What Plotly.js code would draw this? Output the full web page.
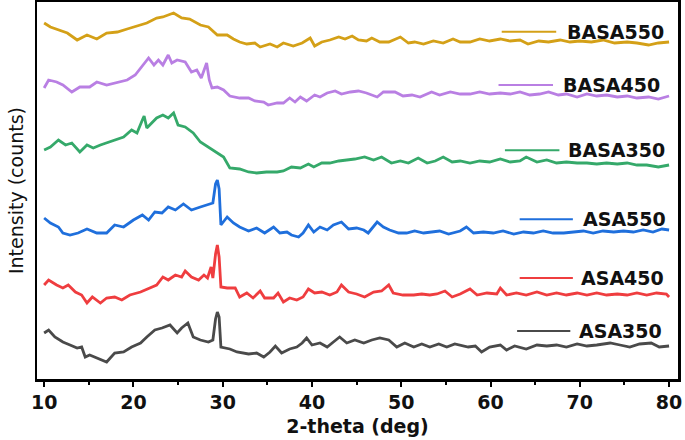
<!DOCTYPE html>
<html>
<head>
<meta charset="utf-8">
<script src="https://cdn.plot.ly/plotly-3.0.1.min.js"></script>
<style>
  html, body { margin: 0; padding: 0; background: #ffffff; }
  #plot { width: 685px; height: 440px; }
</style>
</head>
<body>
<div id="plot"></div>
<script>
// XRD patterns, stacked with a vertical offset (arbitrary counts)

const basa550X = [10,10.7,12.6,13.7,14.8,15.9,17,18.2,19.3,20.4,21.5,22.6,23.3,24.5,25.4,26.3,27.5,28.4,29.4,30.5,31.2,31.9,32.7,33.6,34.2,35.3,36.1,36.8,37.9,38.9,39.8,40.3,41.1,42,43,43.7,44.5,45.2,46.1,46.7,47.6,48.6,49.9,50.8,51.5,52.5,53.6,54.7,55.8,56.6,57.7,58.8,59.9,61.1,62.2,63.3,64.2,65.4,66.5,67.8,68.9,70,71.3,72.6,73.9,75.3,76.4,77.7,78.8,80];
const basa550Y = [356,352,346,339,344,340,346,347,350,353,356,361,362,366,361,360,354,352,344,344,340,337,335,336,332,335,332,336,333,336,341,333,337,339,342,340,343,339,338,341,337,337,342,336,337,335,338,336,340,337,337,340,338,340,338,339,335,338,337,339,337,338,337,339,336,337,336,334,336,337];

const basa450X = [10,10.5,11.4,12.1,13.1,14,15.1,15.9,17,18.2,19.3,20.2,21.1,21.7,22.3,22.8,23.3,23.9,24.3,24.9,25.8,26.5,27.1,27.6,28.2,28.5,28.8,29.4,30.1,30.8,31.9,32.9,33.6,34.6,35.1,36.1,36.8,37.5,38.1,38.7,39.4,40.3,40.9,41.7,42.6,43.3,44.3,45.2,46.1,47.3,48,49.3,50.2,51.2,52.1,53.4,54.3,55.5,56.6,57.7,58.8,59.9,61.1,62.2,63.3,64.4,65.5,66.5,67.6,68.5,69.7,70.8,71.9,73,74.2,75.3,76.4,77.7,78.8,80];
const basa450Y = [291,299,297,294,287,292,292,297,294,297,299,304,314,321,314,319,314,324,316,319,317,307,309,301,316,299,291,292,289,283,281,281,278,277,274,276,276,281,277,282,278,284,282,286,288,285,287,288,286,282,287,287,283,284,282,287,284,287,285,285,287,285,286,285,287,284,285,287,284,285,282,285,283,284,282,283,281,282,280,283];

const basa350X = [10,10.7,11.6,12.4,13.1,14,14.8,15.5,16.3,17,17.9,18.9,19.8,20.4,21,21.2,21.5,22.1,22.6,23.3,23.9,24.5,25,25.8,26.7,27.5,28.4,29.4,30.1,30.8,31.9,32.9,33.8,34.9,36.1,36.8,37.7,38.7,39.6,40.2,41.1,42,43,43.9,44.8,45.9,46.9,47.8,48.9,49.9,50.8,51.9,52.9,53.8,54.7,55.7,56.6,57.7,58.8,59.9,61.1,62.2,63.3,64,65.2,66.3,67.4,68.5,69.7,70.8,71.9,73,74.2,75.3,76.4,77.5,78.8,80];
const basa350Y = [229,232,239,234,236,227,234,231,234,236,239,242,249,246,259,263,251,257,261,264,261,266,254,252,246,237,232,226,222,211,210,207,206,207,207,208,212,211,215,212,216,216,218,219,220,222,219,222,216,218,216,221,216,218,222,217,218,216,218,217,220,217,218,222,217,219,216,217,216,216,215,216,215,216,214,214,212,214];

const asa550X = [10,10.7,11.6,12.1,12.9,13.8,14.8,15.9,17,17.9,18.9,20,21,21.7,22.4,23.2,23.9,24.7,25.6,26.5,27.5,28.4,28.9,29.2,29.4,29.6,29.8,30.5,31.2,31.9,32.9,33.8,34.7,35.7,36.4,37.2,37.7,38.5,39,39.6,40.2,40.9,41.7,42.4,43.3,44.1,45,45.8,46.3,47.3,48,48.7,49.7,50.6,51.5,52.5,53.4,54.3,55.3,56.6,57.3,58.1,59.2,60.3,61.4,62.6,63.7,64.8,65.9,67,68.2,69.3,70.4,71.5,72.6,73.8,74.9,76,77.1,78.2,79.2,80];
const asa550Y = [161,156,152,146,144,146,150,146,146,154,152,159,164,159,167,166,172,169,175,169,172,175,176,195,199,190,154,162,156,152,148,151,146,152,146,147,144,142,146,154,147,152,149,154,157,150,151,149,146,157,152,149,146,146,148,146,147,148,145,148,152,146,147,146,148,145,147,146,148,146,146,147,148,146,148,147,148,147,149,147,150,149];

const asa450X = [10,10.5,11.4,12.1,12.7,13.5,14.2,14.8,15.4,16.3,17,17.9,18.7,19.6,20.8,21.9,22.6,23.3,23.9,24.7,25.4,25.8,26.5,27.3,27.9,28.3,28.7,28.9,29.2,29.4,29.6,29.8,30.5,31.4,31.9,32.7,33.4,34.2,34.7,35.7,36.2,36.8,37.5,38.3,39,39.6,40.3,41.1,42,42.8,43.3,44.1,45,45.9,46.9,47.8,48.6,49.1,50.2,51.4,52.3,53.2,54,54.9,55.7,56.6,57.7,58.5,59.6,60.7,61.1,61.8,62.9,64,65.2,66.3,67.4,68.5,69.7,70.8,71.9,73,74.2,75.3,76.4,77.5,78.6,79.7,80];
const asa450Y = [94,99,94,91,94,87,84,76,82,76,81,82,79,84,87,91,94,102,99,104,102,108,102,99,104,101,112,101,125,134,122,92,91,91,82,86,81,88,81,81,86,77,81,79,82,90,86,87,84,87,94,87,85,82,87,88,94,86,84,84,85,84,85,88,82,85,90,84,86,85,91,84,86,84,87,84,86,84,86,84,86,84,85,84,86,84,86,85,82];

const asa350X = [10,10.5,11.2,12.1,12.9,13.7,14.2,14.6,15.1,16,17,17.9,18.9,19.8,20.8,21.5,22.4,23.2,24.1,24.9,25.4,26.1,26.7,27.5,28.4,28.9,29.2,29.4,29.6,29.8,30.8,31.6,32.9,33.8,34.6,35.3,35.9,36.6,37.5,38.3,38.9,39.4,40,40.9,41.7,42.4,43.1,43.9,44.8,45.8,46.7,47.6,48.6,49.5,50.4,51.4,52.3,53.2,54.2,55.1,56,57.5,58.3,59,59.9,61.1,61.8,62.7,64,65.2,66.3,67.4,68.5,69.7,70.8,71.9,73.4,74.5,75.6,76.7,78,78.9,80];
const asa350Y = [46,49,42,37,34,31,32,22,24,21,17,26,27,32,36,42,49,51,54,46,51,56,42,39,37,39,60,67,62,32,30,27,25,26,22,27,33,26,30,32,36,41,34,36,32,37,42,36,39,36,39,41,39,32,36,32,35,32,35,32,35,32,33,27,32,34,29,33,30,34,33,34,32,35,33,34,36,34,32,35,36,32,33];

const seriesNames = ['BASA550', 'BASA450', 'BASA350', 'ASA550', 'ASA450', 'ASA350'];
const seriesX = [basa550X, basa450X, basa350X, asa550X, asa450X, asa350X];
const seriesY = [basa550Y, basa450Y, basa350Y, asa550Y, asa450Y, asa350Y];
const colors = ['#d4a017', '#b97fe3', '#35a96a', '#1f6fdc', '#ef3d3f', '#4a4a4a'];

// label placement beside each curve (paper coords: line start, line end, text start, y)
const labelPos = [
    [0.725, 0.81, 0.823, 0.921],
    [0.72, 0.805, 0.818, 0.78],
    [0.73, 0.815, 0.826, 0.607],
    [0.753, 0.836, 0.848, 0.424],
    [0.753, 0.836, 0.846, 0.268],
    [0.749, 0.832, 0.843, 0.127]
];

const data = seriesNames.map((name, i) => ({
    x: seriesX[i],
    y: seriesY[i],
    name: name,
    type: 'scatter',
    mode: 'lines',
    line: { color: colors[i], width: 2.8 }
}));

const shapes = [], annotations = [];
labelPos.forEach((p, i) => {
    shapes.push({
        type: 'line', xref: 'paper', yref: 'paper',
        x0: p[0], x1: p[1], y0: p[3], y1: p[3],
        line: { color: colors[i], width: 2 }
    });
    annotations.push({
        xref: 'paper', yref: 'paper', x: p[2], y: p[3],
        xanchor: 'left', yanchor: 'middle', showarrow: false,
        text: seriesNames[i],
        font: { family: 'DejaVu Sans', size: 19, weight: 'bold', color: '#111111' }
    });
});

const layout = {
    width: 685,
    height: 440,
    showlegend: false,
    margin: { l: 37, r: 7, t: 2, b: 61 },
    paper_bgcolor: '#ffffff',
    plot_bgcolor: '#ffffff',
    xaxis: {
        range: [9.2, 81],
        tick0: 10, dtick: 10,
        ticks: 'outside', ticklen: 5, tickwidth: 2, tickcolor: '#000',
        minor: { dtick: 5, ticks: 'outside', ticklen: 3, tickwidth: 2, tickcolor: '#000' },
        showline: true, mirror: true, linewidth: 2.5, linecolor: '#000',
        showgrid: false, zeroline: false,
        tickfont: { family: 'DejaVu Sans', size: 19, weight: 'bold', color: '#111' },
        title: { text: '2-theta (deg)', standoff: 8, font: { family: 'DejaVu Sans', size: 19, weight: 'bold', color: '#111' } }
    },
    yaxis: {
        range: [0, 377],
        showticklabels: false, ticks: '',
        showline: true, mirror: true, linewidth: 2.5, linecolor: '#000',
        showgrid: false, zeroline: false,
        title: { text: 'Intensity (counts)', standoff: 6, font: { family: 'DejaVu Sans', size: 19, color: '#111' } }
    },
    shapes: shapes,
    annotations: annotations
};

Plotly.newPlot('plot', data, layout, { displayModeBar: false, staticPlot: true });
</script>
</body>
</html>
